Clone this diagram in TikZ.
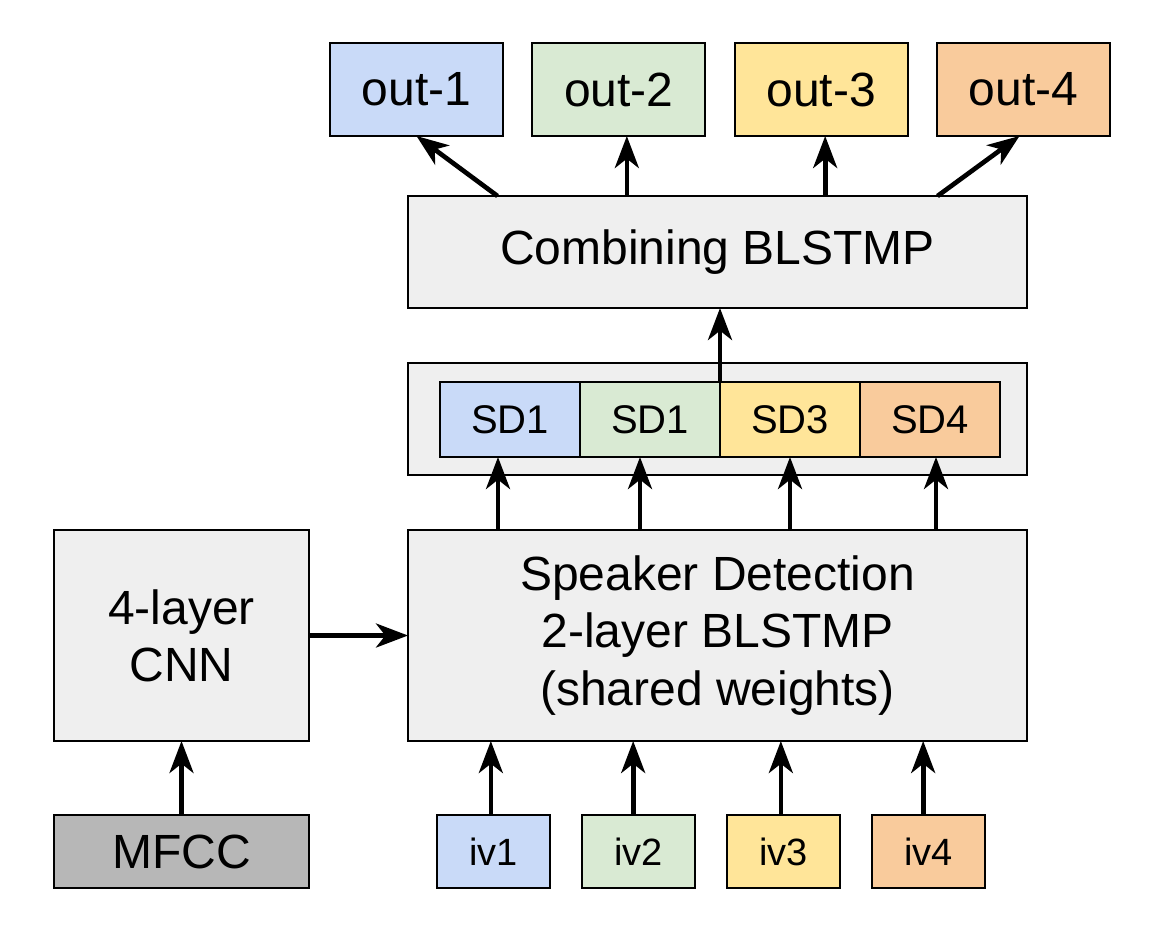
\documentclass[tikz,border=0pt]{standalone}
\usepackage{fontspec}
\setmainfont{Liberation Sans}
\usetikzlibrary{arrows.meta, positioning}

\definecolor{cblue}{HTML}{C9DAF8}
\definecolor{cgreen}{HTML}{D9EAD3}
\definecolor{cyellow}{HTML}{FFE599}
\definecolor{corange}{HTML}{F9CB9C}
\definecolor{cgrey}{HTML}{EFEFEF}
\definecolor{cdark}{HTML}{B7B7B7}

\begin{document}
\begin{tikzpicture}[x=0.75pt, y=-0.75pt]
\tikzstyle{box}=[rectangle, draw=black, line width=1.5pt, inner sep=0pt, outer sep=0pt, align=center]
\tikzstyle{big}=[box, font=\fontsize{36}{43}\selectfont]
\tikzstyle{small}=[box, font=\fontsize{28.5}{34}\selectfont]
\tikzstyle{outbox}=[big, minimum width=129.75pt, minimum height=69.75pt]
\tikzstyle{sdbox}=[box, font=\fontsize{30}{36}\selectfont, minimum width=105pt, minimum height=56.25pt]
\tikzstyle{ivbox}=[small, minimum width=84.75pt, minimum height=54.75pt]
\tikzstyle{connect}=[-{Stealth[length=24pt, width=18pt, inset=7pt]}, line width=3.5pt]
    \useasboundingbox (0,0) rectangle (1166,926);
    % outputs
    \node[outbox, fill=cblue] (out1) at (416.5,89.5) {out-1};
    \node[outbox, fill=cgreen] (out2) [right=22pt of out1] {out-2};
    \node[outbox, fill=cyellow] (out3) [right=22pt of out2] {out-3};
    \node[outbox, fill=corange] (out4) [right=22pt of out3] {out-4};
    \node[big, fill=cgrey, minimum width=464.25pt, minimum height=84pt] (comb) at (717.5,252) {Combining BLSTMP};
    % speaker detection outputs
    \node[box, fill=cgrey, minimum width=464.25pt, minimum height=84pt] (sdrow) at (717.5,419) {};
    \node[sdbox, fill=cblue] (sd1) at (510,419.5) {SD1};
    \node[sdbox, fill=cgreen] (sd2) [right=0pt of sd1] {SD1};
    \node[sdbox, fill=cyellow] (sd3) [right=0pt of sd2] {SD3};
    \node[sdbox, fill=corange] (sd4) [right=0pt of sd3] {SD4};
    \node[big, fill=cgrey, minimum width=464.25pt, minimum height=158.25pt] (sdnet) at (717.5,635.5) {Speaker Detection\\2-layer BLSTMP\\(shared weights)};
    \node[big, fill=cgrey, minimum width=191.25pt, minimum height=158.25pt] (cnn) at (181.5,635.5) {4-layer\\CNN};
    \node[big, fill=cdark, minimum width=191.25pt, minimum height=54.75pt] (mfcc) at (181.5,851.5) {MFCC};
    % i-vectors
    \node[ivbox, fill=cblue] (iv1) at (493.5,851.5) {iv1};
    \node[ivbox, fill=cgreen] (iv2) [right=24pt of iv1] {iv2};
    \node[ivbox, fill=cyellow] (iv3) [right=24pt of iv2] {iv3};
    \node[ivbox, fill=corange] (iv4) [right=24pt of iv3] {iv4};

    \draw[connect] (mfcc) -- (cnn);
    \draw[connect] (cnn) -- (sdnet);
    \foreach \i/\s in {1/-2pt, 2/-4pt, 3/-2pt, 4/-4pt}
        \draw[connect] ([xshift=\s]iv\i.north) -- ([xshift=\s]iv\i.north |- sdnet.south);
    \foreach \i/\s in {1/-9pt, 2/-7.5pt, 3/0pt, 4/4.5pt}
        \draw[connect] ([xshift=\s]sd\i.south |- sdnet.north) -- ([xshift=\s]sd\i.south);
    \draw[connect] (sd2.north east) -- (sd2.north east |- comb.south);
    \draw[connect] ([xshift=-165pt]comb.north) -- (out1.south);
    \draw[connect] ([xshift=6pt]out2.south |- comb.north) -- ([xshift=6pt]out2.south);
    \draw[connect] ([xshift=3pt]out3.south |- comb.north) -- ([xshift=3pt]out3.south);
    \draw[connect] ([xshift=165pt]comb.north) -- ([xshift=-3pt]out4.south);
\end{tikzpicture}
\end{document}
